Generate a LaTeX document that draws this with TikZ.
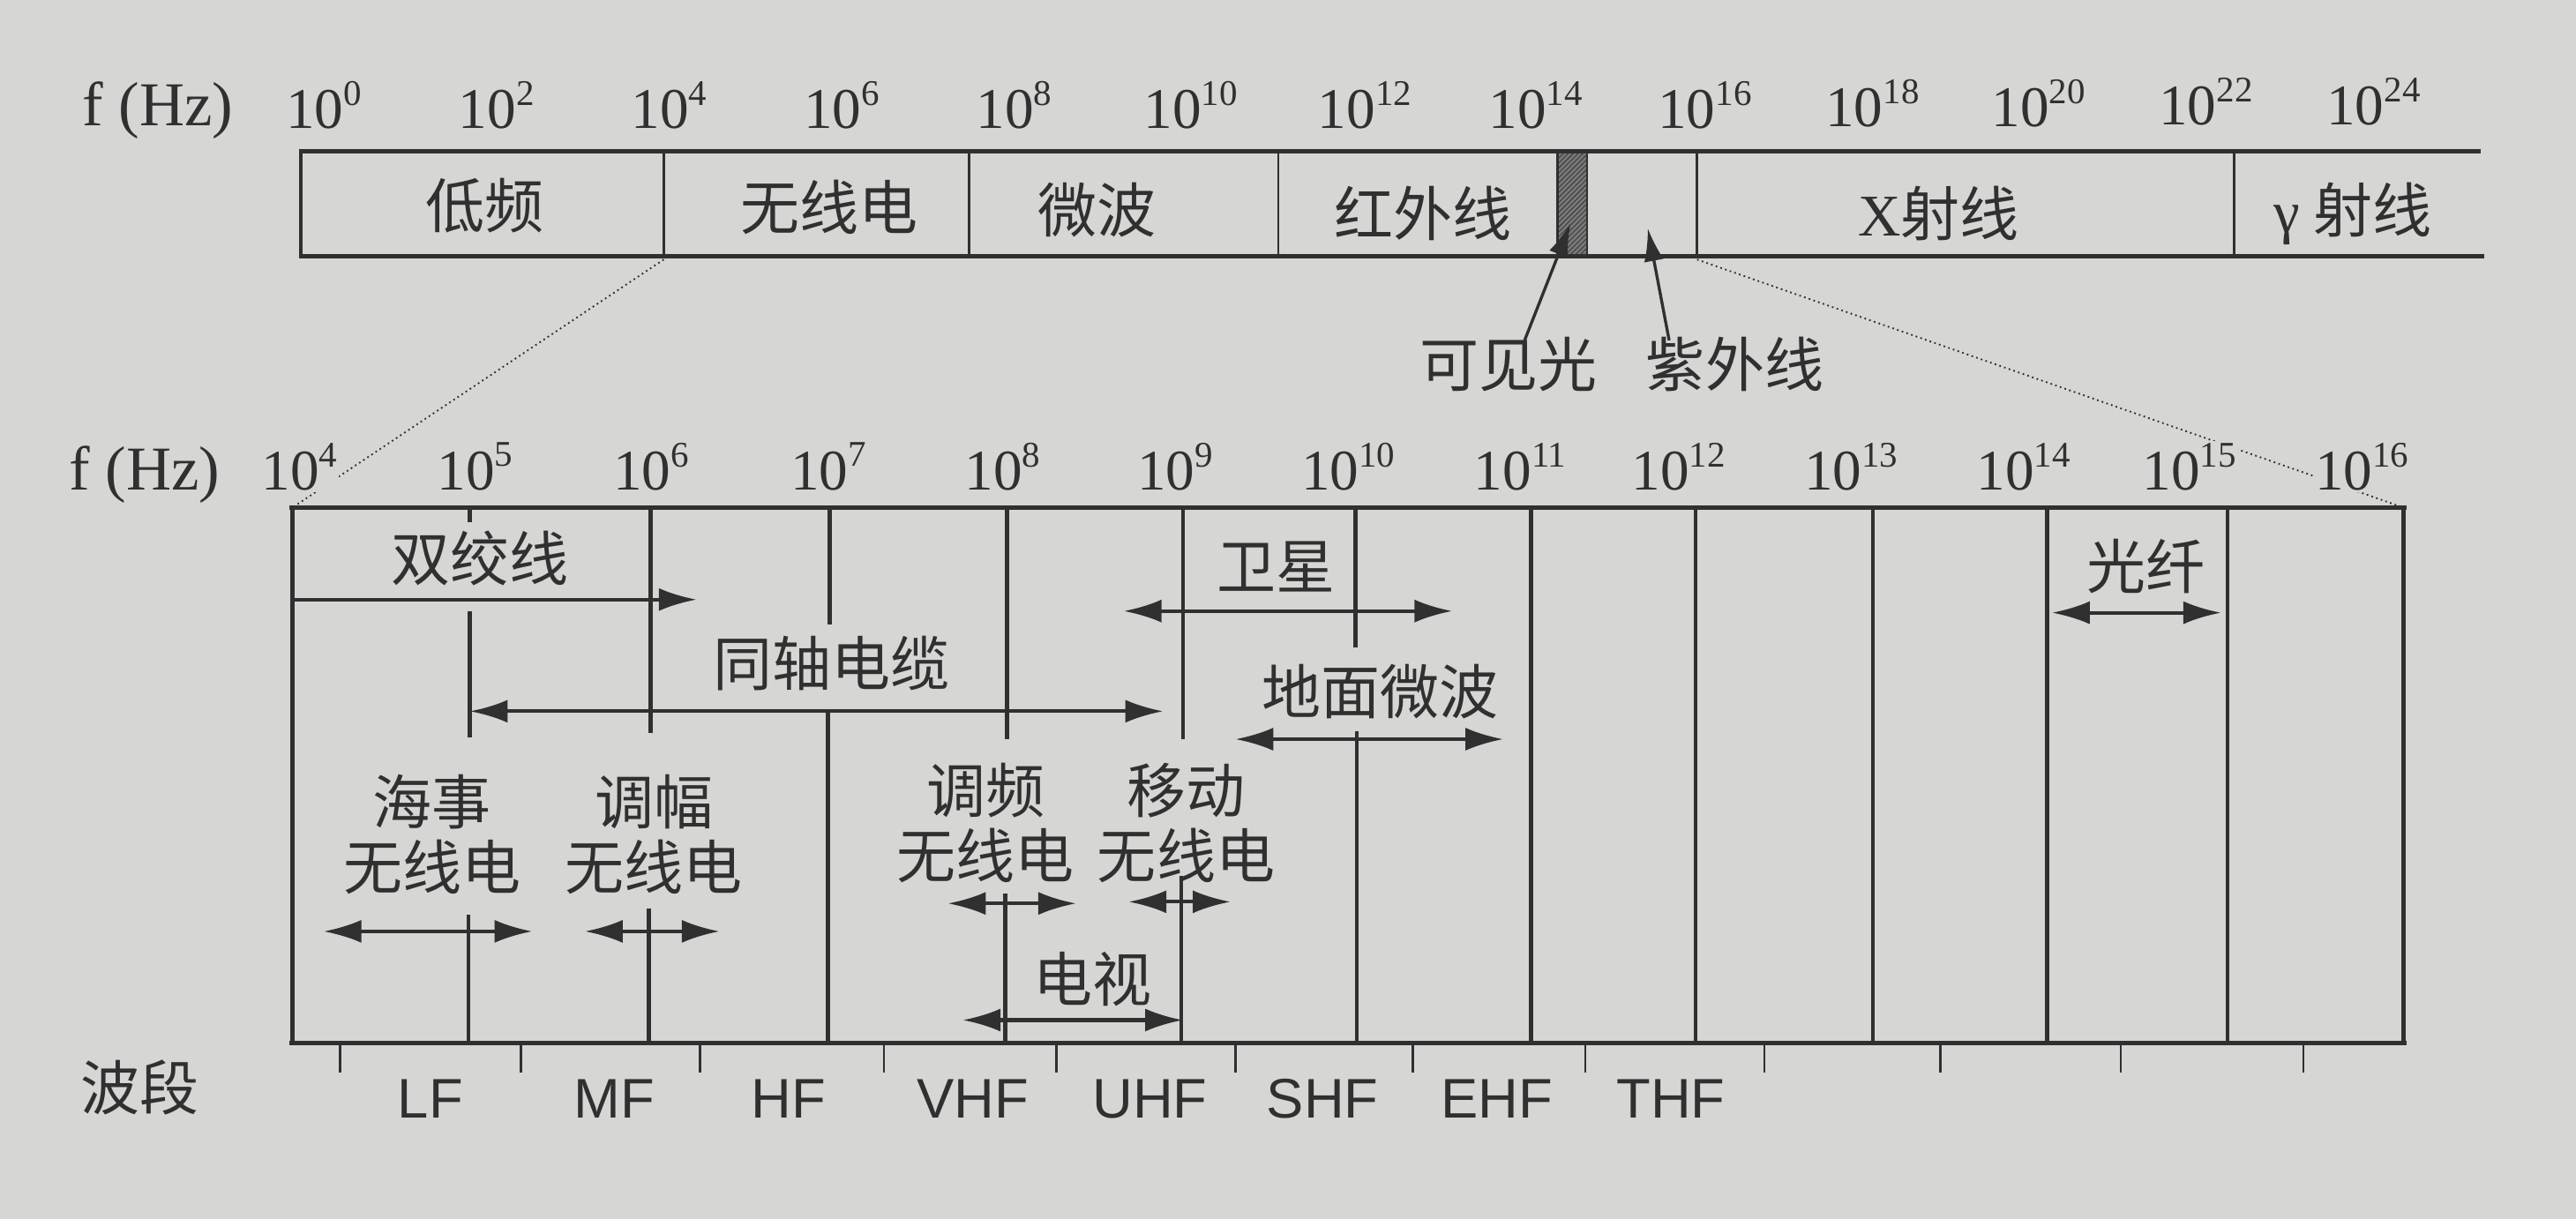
\documentclass[tikz,border=0pt]{standalone}
\usepackage{fontspec}
\setmainfont{Liberation Serif}
\newfontfamily\cjk{Noto Sans CJK SC}
\newfontfamily\serf{Liberation Serif}
\newfontfamily\arialf{Liberation Sans}
\usetikzlibrary{arrows.meta,patterns}
\definecolor{paper}{RGB}{214,214,212}
\definecolor{ink}{RGB}{48,48,48}
\definecolor{hatch}{RGB}{120,120,120}
\newcommand\tenp[1]{10\raisebox{0.40em}{\fontsize{22}{22}\selectfont #1}}
\begin{document}
\begin{tikzpicture}[x=1pt,y=-1pt,
  num/.style={font=\serf\fontsize{35}{35}\selectfont, text=ink, inner sep=1pt, anchor=west},
  fhz/.style={font=\serf\fontsize{38}{38}\selectfont, text=ink, inner sep=1pt},
  lnum/.style={num, fill=paper},
  zh/.style={font=\cjk\fontsize{36}{40}\selectfont, text=ink, inner sep=0pt, align=center},
  band/.style={font=\arialf\fontsize{34}{34}\selectfont, text=ink, inner sep=0pt},
  barline/.style={draw=ink, line width=3pt},
  divline/.style={draw=ink, line width=1.4pt},
  boxline/.style={draw=ink, line width=2.4pt},
  dotline/.style={draw=ink, line width=1pt, dotted},
  tk/.style={draw=ink, line width=1.4pt},
  dbl/.style={draw=ink, line width=2.2pt, {Latex[length=23pt,width=14pt]}-{Latex[length=23pt,width=14pt]}},
  rgt/.style={draw=ink, line width=2.2pt, -{Latex[length=23pt,width=14pt]}},
  upar/.style={draw=ink, line width=1.8pt, -{Latex[length=20pt,width=12pt]}}
]
% background / bounding box
\fill[paper] (0,0) rectangle (1568,742);
\useasboundingbox (0,0) rectangle (1568,742);

% ================= TOP BAR =================
\node[fhz] (fhz1) at (96,67) {f (Hz)};
\node[num] (t0)  at (173,64) {\tenp{0}};
\node[num] (t2)  at (278,64) {\tenp{2}};
\node[num] (t4)  at (383,64) {\tenp{4}};
\node[num] (t6)  at (488,64) {\tenp{6}};
\node[num] (t8)  at (593,64) {\tenp{8}};
\node[num] (t10) at (695,64) {\tenp{10}};
\node[num] (t12) at (801,64) {\tenp{12}};
\node[num] (t14) at (905,64) {\tenp{14}};
\node[num] (t16) at (1008,64) {\tenp{16}};
\node[num] (t18) at (1110,63) {\tenp{18}};
\node[num] (t20) at (1211,63) {\tenp{20}};
\node[num] (t22) at (1313,62) {\tenp{22}};
\node[num] (t24) at (1415,62) {\tenp{24}};

\fill[hatch] (948,92) rectangle (966,156);
\fill[pattern=north east lines, pattern color=ink] (948,92) rectangle (966,156);
\draw[divline] (948,92) -- (948,156);
\draw[divline] (966,92) -- (966,156);

\draw[barline] (182,92) -- (1510,92);
\draw[barline] (182,156) -- (1512,156);
\draw[boxline] (183,92) -- (183,156);
\draw[divline] (404,92) -- (404,156);
\draw[divline] (590,92) -- (590,156);
\draw[divline] (778,92) -- (778,156);
\draw[divline] (1033,92) -- (1033,156);
\draw[divline] (1360,92) -- (1360,156);

\node[zh] (dp)  at (295,125) {低频};
\node[zh] (wxd) at (505,126) {无线电};
\node[zh] (wb)  at (668,128) {微波};
\node[zh] (hwx) at (866,130) {红外线};
\node[zh] (xsx) at (1180,130) {{\serf X}射线};
\node[zh] (gsx) at (1432,130) {{\serf γ} 射线};

\node[zh] (kjg) at (918,222) {可见光};
\node[zh] (zwx) at (1056,222) {紫外线};
\coordinate (vistip) at (956,136);
\coordinate (uvtip) at (1003,139);
\draw[upar] ([xshift=10pt,yshift=-2pt]kjg.north) -- (vistip);
\draw[upar] ([xshift=-40pt,yshift=-2pt]zwx.north) -- (uvtip);

% zoom lines
\coordinate (za1) at (404,158);
\coordinate (za2) at (178,309);
\coordinate (zb1) at (1033,158);
\coordinate (zb2) at (1463,309);
\draw[dotline] (za1) -- (za2);
\draw[dotline] (zb1) -- (zb2);

% ================= LOWER BOX =================
\node[fhz] (fhz2) at (88,289) {f (Hz)};
\node[lnum] (b4)  at (158,284) {\tenp{4}};
\node[lnum] (b5)  at (265,284) {\tenp{5}};
\node[lnum] (b6)  at (372,284) {\tenp{6}};
\node[lnum] (b7)  at (480,284) {\tenp{7}};
\node[lnum] (b8)  at (586,284) {\tenp{8}};
\node[lnum] (b9)  at (691,284) {\tenp{9}};
\node[lnum] (b10) at (791,284) {\tenp{10}};
\node[lnum] (b11) at (896,284) {\tenp{11}};
\node[lnum] (b12) at (992,284) {\tenp{12}};
\node[lnum] (b13) at (1097,284) {\tenp{13}};
\node[lnum] (b14) at (1202,284) {\tenp{14}};
\node[lnum] (b15) at (1303,284) {\tenp{15}};
\node[lnum] (b16) at (1408,284) {\tenp{16}};

\draw[barline] (176,309) -- (1465,309);
\draw[barline] (176,635) -- (1465,635);
\draw[boxline] (178,309) -- (178,635);
\draw[boxline] (1463,309) -- (1463,635);
% full verticals
\foreach \xx in {932,1032,1140,1246,1356}
  \draw[boxline] (\xx,309) -- (\xx,635);
% partial verticals
\draw[boxline] (286,309) -- (286,318);
\draw[boxline] (286,372) -- (286,449);
\draw[boxline] (285,557) -- (285,635);
\draw[boxline] (396,309) -- (396,446);
\draw[boxline] (395,553) -- (395,635);
\draw[boxline] (505,309) -- (505,380);
\draw[boxline] (504,433) -- (504,635);
\draw[boxline] (613,309) -- (613,450);
\draw[boxline] (612,544) -- (612,635);
\draw[boxline] (720,309) -- (720,450);
\draw[boxline] (719,533) -- (719,635);
\draw[boxline] (825,309) -- (825,394);
\draw[boxline] (826,445) -- (826,635);

% labels in box
\node[zh] (sjx) at (292,340) {双绞线};
\node[zh] (tzdl) at (506,404) {同轴电缆};
\node[zh] (wx) at (777,345) {卫星};
\node[zh] (dmwb) at (840,421) {地面微波};
\node[zh] (hs) at (263,508) {海事\\无线电};
\node[zh] (tf) at (398,508) {调幅\\无线电};
\node[zh] (tp) at (600,501) {调频\\无线电};
\node[zh] (yd) at (722,501) {移动\\无线电};
\node[zh] (ds) at (665,596) {电视};
\node[zh] (gx) at (1306,345) {光纤};

% arrows
\coordinate (sj1) at (178,365);  \coordinate (sj2) at (424,365);
\coordinate (tz1) at (286,433);  \coordinate (tz2) at (708,433);
\coordinate (wx1) at (684,372);  \coordinate (wx2) at (884,372);
\coordinate (dm1) at (752,450);  \coordinate (dm2) at (915,450);
\coordinate (hs1) at (197,567);  \coordinate (hs2) at (324,567);
\coordinate (tf1) at (356,567);  \coordinate (tf2) at (438,567);
\coordinate (tp1) at (577,550);  \coordinate (tp2) at (655,550);
\coordinate (yd1) at (687,549);  \coordinate (yd2) at (749,549);
\coordinate (ds1) at (586,621);  \coordinate (ds2) at (720,621);
\coordinate (gx1) at (1249,373); \coordinate (gx2) at (1352,373);
\draw[rgt] (sj1) -- (sj2);
\draw[dbl] (tz1) -- (tz2);
\draw[dbl] (wx1) -- (wx2);
\draw[dbl] (dm1) -- (dm2);
\draw[dbl] (hs1) -- (hs2);
\draw[dbl] (tf1) -- (tf2);
\draw[dbl] (tp1) -- (tp2);
\draw[dbl] (yd1) -- (yd2);
\draw[dbl] (ds1) -- (ds2);
\draw[dbl] (gx1) -- (gx2);

% band ticks and labels
\node[zh] (bd) at (85,662) {波段};
\foreach \xx in {207,317,426,538,643,752,860,965,1074,1181,1291,1402}
  \draw[tk] (\xx,635) -- (\xx,653);
\node[band] (lf)  at (262,669) {LF};
\node[band] (mf)  at (374,669) {MF};
\node[band] (hf)  at (480,669) {HF};
\node[band] (vhf) at (592,669) {VHF};
\node[band] (uhf) at (700,669) {UHF};
\node[band] (shf) at (805,669) {SHF};
\node[band] (ehf) at (911,669) {EHF};
\node[band] (thf) at (1017,669) {THF};
\end{tikzpicture}
\end{document}
